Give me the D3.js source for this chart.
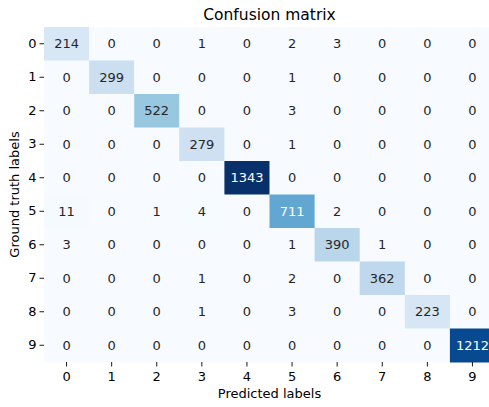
<!DOCTYPE html>
<html>
<head>
<meta charset="utf-8">
<script src="https://cdn.jsdelivr.net/npm/d3@7"></script>
<style>
    body { margin: 0; background: #fff; }
    svg { display: block; font-family: "DejaVu Sans", sans-serif; }
</style>
</head>
<body>
<div id="chart"></div>
<script>
// class labels (same for both axes)
const labels = ["0", "1", "2", "3", "4", "5", "6", "7", "8", "9"];

// rows = ground truth, columns = predicted
const counts = [
    [214, 0, 0, 1, 0, 2, 3, 0, 0, 0],
    [0, 299, 0, 0, 0, 1, 0, 0, 0, 0],
    [0, 0, 522, 0, 0, 3, 0, 0, 0, 0],
    [0, 0, 0, 279, 0, 1, 0, 0, 0, 0],
    [0, 0, 0, 0, 1343, 0, 0, 0, 0, 0],
    [11, 0, 1, 4, 0, 711, 2, 0, 0, 0],
    [3, 0, 0, 0, 0, 1, 390, 1, 0, 0],
    [0, 0, 0, 1, 0, 2, 0, 362, 0, 0],
    [0, 0, 0, 1, 0, 3, 0, 0, 223, 0],
    [0, 0, 0, 0, 0, 0, 0, 0, 0, 1212]
];

const width = 489, height = 407;
const margin = {top: 27, left: 44};
const plotW = 451, plotH = 335;

const svg = d3.select("#chart").append("svg")
    .attr("width", width)
    .attr("height", height);

const g = svg.append("g")
    .attr("transform", `translate(${margin.left},${margin.top})`);

const x = d3.scaleBand().domain(labels).range([0, plotW]);
const y = d3.scaleBand().domain(labels).range([0, plotH]);

// matplotlib "Blues" stops
const blues = ["#f7fbff", "#deebf7", "#c6dbef", "#9ecae1", "#6baed6",
    "#4292c6", "#2171b5", "#08519c", "#08306b"];
const vmax = d3.max(counts.flat());
const color = d3.scaleLinear()
    .domain(blues.map((_, i) => i / (blues.length - 1) * vmax))
    .range(blues)
    .interpolate(d3.interpolateRgb);

const cells = [];
counts.forEach((row, i) => row.forEach((v, j) => {
    cells.push({truth: labels[i], pred: labels[j], value: v});
}));

g.selectAll("rect")
    .data(cells)
    .join("rect")
    .attr("x", d => x(d.pred))
    .attr("y", d => y(d.truth))
    .attr("width", x.bandwidth() + 0.5)
    .attr("height", y.bandwidth() + 0.5)
    .attr("fill", d => color(d.value));

function luminance(c) {
    const rgb = d3.rgb(c);
    const ch = [rgb.r, rgb.g, rgb.b].map(v => {
        v /= 255;
        return v <= 0.03928 ? v / 12.92 : Math.pow((v + 0.055) / 1.055, 2.4);
    });
    return 0.2126 * ch[0] + 0.7152 * ch[1] + 0.0722 * ch[2];
}

g.selectAll("text.annot")
    .data(cells)
    .join("text")
    .attr("class", "annot")
    .attr("x", d => x(d.pred) + x.bandwidth() / 2)
    .attr("y", d => y(d.truth) + y.bandwidth() / 2)
    .attr("dy", "0.36em")
    .attr("text-anchor", "middle")
    .attr("font-size", 13)
    .attr("fill", d => luminance(color(d.value)) > 0.408 ? "#262626" : "#ffffff")
    .text(d => d.value);

// axes
const xAxis = g.append("g")
    .attr("transform", `translate(0,${plotH})`)
    .call(d3.axisBottom(x).tickSize(4.5).tickPadding(5.5));
const yAxis = g.append("g")
    .call(d3.axisLeft(y).tickSize(4.5).tickPadding(3));

[xAxis, yAxis].forEach(a => {
    a.select(".domain").remove();
    a.selectAll("text").attr("font-size", 13).attr("fill", "#000")
        .attr("font-family", "DejaVu Sans, sans-serif");
    a.selectAll("line").attr("stroke", "#000").attr("stroke-width", 0.9);
});

svg.append("text")
    .attr("x", margin.left + plotW / 2)
    .attr("y", 20)
    .attr("text-anchor", "middle")
    .attr("font-size", 15.5)
    .attr("fill", "#000")
    .text("Confusion matrix");

svg.append("text")
    .attr("x", margin.left + plotW / 2)
    .attr("y", 398)
    .attr("text-anchor", "middle")
    .attr("font-size", 13)
    .attr("fill", "#000")
    .text("Predicted labels");

svg.append("text")
    .attr("transform", `translate(19,${margin.top + plotH / 2}) rotate(-90)`)
    .attr("text-anchor", "middle")
    .attr("font-size", 13)
    .attr("fill", "#000")
    .text("Ground truth labels");
</script>
</body>
</html>
